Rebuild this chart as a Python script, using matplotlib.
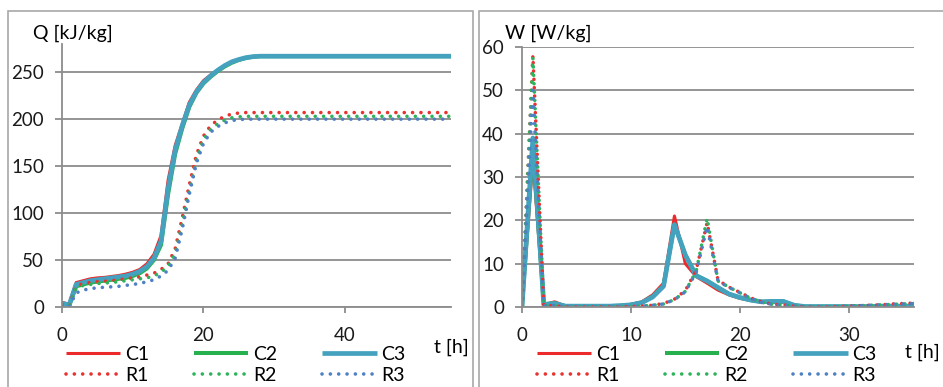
import matplotlib
matplotlib.use("Agg")
import matplotlib.pyplot as plt
from matplotlib.patches import Rectangle

plt.rcParams["font.family"] = ["Lato", "DejaVu Sans"]

# --- data: Q [kJ/kg] vs t [h], hourly ---
t_q = list(range(0, 56))
q_c1 = [5, 3, 26, 28, 30, 31, 31.5, 32.5, 33.5, 35, 37, 40, 46, 56, 76, 135, 172, 195, 218, 231,
        241, 247, 252, 257, 261, 263.5, 265.5, 266.5] + [267] * 28
q_c2 = [3, 1, 22, 24, 26, 27, 28, 29, 30, 31, 33, 36, 41, 50, 66, 120, 163, 190, 213, 228,
        238, 245, 251, 256, 260, 263, 265, 266.5] + [267] * 28
q_c3 = [4, 2, 24, 26, 28, 29, 30, 31, 32, 33, 35, 38, 43, 52, 70, 126, 167, 193, 215, 229,
        239, 246, 252, 257, 261, 263.5, 265.5, 266.5] + [267] * 28
q_r1 = [3, 1, 22, 25, 26, 27, 27.5, 28, 29, 30, 31, 32, 34, 36, 40, 46, 62, 95, 130, 162,
        182, 193, 199, 203, 205.5, 206.5] + [207] * 30
q_r2 = [3, 1, 20, 23, 24, 25, 25.5, 26, 27, 28, 29, 30, 31, 33, 37, 43, 57, 88, 124, 157,
        178, 189, 195, 199, 201.5, 202.5] + [203] * 30
q_r3 = [2, 0, 15, 18, 19.5, 20.5, 21, 21.5, 22, 23, 24, 25, 27, 29, 33, 39, 52, 83, 120, 153,
        174, 186, 192, 196, 198.5, 199.5] + [200] * 30

# --- data: W [W/kg] vs t [h], hourly ---
t_w = list(range(0, 37))
w_c1 = [0, 34, 0.5, 1.2, 0.2, 0.1, 0.1, 0.1, 0.2, 0.3, 0.6, 1.2, 2.8, 5.5, 21, 10, 7, 5.5, 3.9, 2.8,
        2, 1.5, 1.1, 1.1, 1.1, 0.3, 0, 0, 0.1, 0, 0, 0, -0.1, 0.1, 0.2, 0.3, 0.3]
w_c2 = [0, 37, 0.6, 0.9, 0.2, 0.2, 0.2, 0.2, 0.2, 0.3, 0.5, 1.0, 2.4, 4.9, 19, 12, 7.3, 6, 4.4, 3,
        2.2, 1.6, 1.2, 1.3, 1.3, 0.4, 0.1, 0.1, 0.1, 0.1, 0.1, 0.1, 0.1, 0.2, 0.2, 0.2, 0.2]
w_c3 = [0, 39, 0.6, 0.8, 0.2, 0.2, 0.2, 0.2, 0.2, 0.3, 0.5, 1.0, 2.3, 4.8, 19, 12, 7.2, 6, 4.5, 3,
        2.2, 1.6, 1.2, 1.3, 1.3, 0.4, 0.1, 0.1, 0.1, 0.1, 0.1, 0.1, 0.1, 0.2, 0.2, 0.2, 0.2]
w_r1 = [0, 58, 0.3, 0.3, 0, 0, 0, 0, 0, 0, 0.1, 0.2, 0.4, 0.8, 1.8, 3.8, 8.5, 19.5, 6.2, 4.6,
        3.4, 2.1, 1.2, 0.6, 0.5, 0.2, 0, 0, 0, 0.1, 0.2, 0.3, 0.4, 0.5, 0.7, 0.8, 0.9]
w_r2 = [0, 57.5, 0.3, 0.3, 0, 0, 0, 0, 0, 0, 0.1, 0.2, 0.4, 0.7, 1.7, 3.6, 8.3, 20.5, 6, 4.6,
        3.3, 2, 1.1, 0.6, 0.4, 0.2, 0, 0, 0, 0.1, 0.2, 0.3, 0.4, 0.5, 0.6, 0.7, 0.8]
w_r3 = [0, 50, 0.3, 0.3, 0, 0, 0, 0, 0, 0, 0.1, 0.2, 0.4, 0.7, 1.7, 3.5, 8.0, 18.5, 6, 4.5,
        3.3, 2, 1.1, 0.6, 0.4, 0.2, 0, 0, 0, 0.1, 0.2, 0.3, 0.4, 0.5, 0.6, 0.7, 0.8]

labels = ["C1", "C2", "C3", "R1", "R2", "R3"]
colors = ["#EC2A2C", "#27B04E", "#44A2BF", "#E8322F", "#2DB35C", "#4D80C4"]
widths = [2.2, 2.9, 3.4, 2.6, 2.6, 2.6]
GRID = "#8c8c8c"
BORDER = "#a8a8a8"
W, H = 943, 387
FS = 14
TFS = 13.5

fig = plt.figure(figsize=(W / 100, H / 100), dpi=100, facecolor="white")

# chart-area borders
fig.patches.append(Rectangle((8 / W, -0.05), 465 / W, 1 - 11 / H + 0.05, transform=fig.transFigure,
                             fill=False, ec=BORDER, lw=1.2))
fig.patches.append(Rectangle((479 / W, -0.05), 500 / W, 1 - 11 / H + 0.05, transform=fig.transFigure,
                             fill=False, ec=BORDER, lw=1.2))


def style(ax, xlim, ylim, xt, yt):
    ax.set_xlim(*xlim)
    ax.set_ylim(*ylim)
    ax.set_xticks(xt)
    ax.set_yticks(yt)
    for s in ["top", "right"]:
        ax.spines[s].set_visible(False)
    for s in ["left", "bottom"]:
        ax.spines[s].set_color(GRID)
        ax.spines[s].set_linewidth(1.3)
    ax.grid(axis="y", color=GRID, lw=1.3)
    ax.set_axisbelow(True)
    ax.tick_params(axis="y", length=5, width=1.3, color=GRID, pad=8, labelsize=TFS, labelcolor="#1a1a1a")
    ax.tick_params(axis="x", length=4.5, width=1.3, color=GRID, pad=10, labelsize=TFS, labelcolor="#1a1a1a")


def draw(ax, t, series):
    for i, y in enumerate(series):
        if i < 3:
            ax.plot(t, y, color=colors[i], lw=widths[i], label=labels[i], solid_capstyle="butt")
        else:
            ax.plot(t, y, color=colors[i], lw=widths[i], label=labels[i],
                    ls=(0, (0.01, 2.3)), dash_capstyle="round")


def legend(ax, x0, y0):
    h, l = ax.get_legend_handles_labels()
    order = [0, 3, 1, 4, 2, 5]
    ax.legend([h[i] for i in order], [l[i] for i in order], ncol=3, loc="upper left",
              bbox_to_anchor=(x0, y0), frameon=False, fontsize=FS, borderpad=0,
              handlelength=2.8, handletextpad=0.25, columnspacing=2.3, labelspacing=0.22,
              borderaxespad=0)


# left: Q
ax1 = fig.add_axes([62 / W, (H - 307) / H, 389 / W, 263 / H])
style(ax1, (0, 55), (0, 280), [0, 20, 40], [0, 50, 100, 150, 200, 250])
draw(ax1, t_q, [q_c1, q_c2, q_c3, q_r1, q_r2, q_r3])
legend(ax1, 0.01, -0.148)
fig.text(33 / W, 1 - 33 / H, "Q [kJ/kg]", fontsize=FS, va="center", ha="left")
fig.text(434 / W, 1 - 347 / H, "t [h]", fontsize=FS, va="center", ha="left")

# right: W
ax2 = fig.add_axes([522 / W, (H - 307) / H, 392 / W, 260 / H])
style(ax2, (0, 36), (0, 60), [0, 10, 20, 30], [0, 10, 20, 30, 40, 50, 60])
draw(ax2, t_w, [w_c1, w_c2, w_c3, w_r1, w_r2, w_r3])
legend(ax2, 0.038, -0.15)
fig.text(505 / W, 1 - 33 / H, "W [W/kg]", fontsize=FS, va="center", ha="left")
fig.text(905 / W, 1 - 352 / H, "t [h]", fontsize=FS, va="center", ha="left")

fig.savefig("out.png", dpi=100, facecolor="white")
plt.close(fig)
